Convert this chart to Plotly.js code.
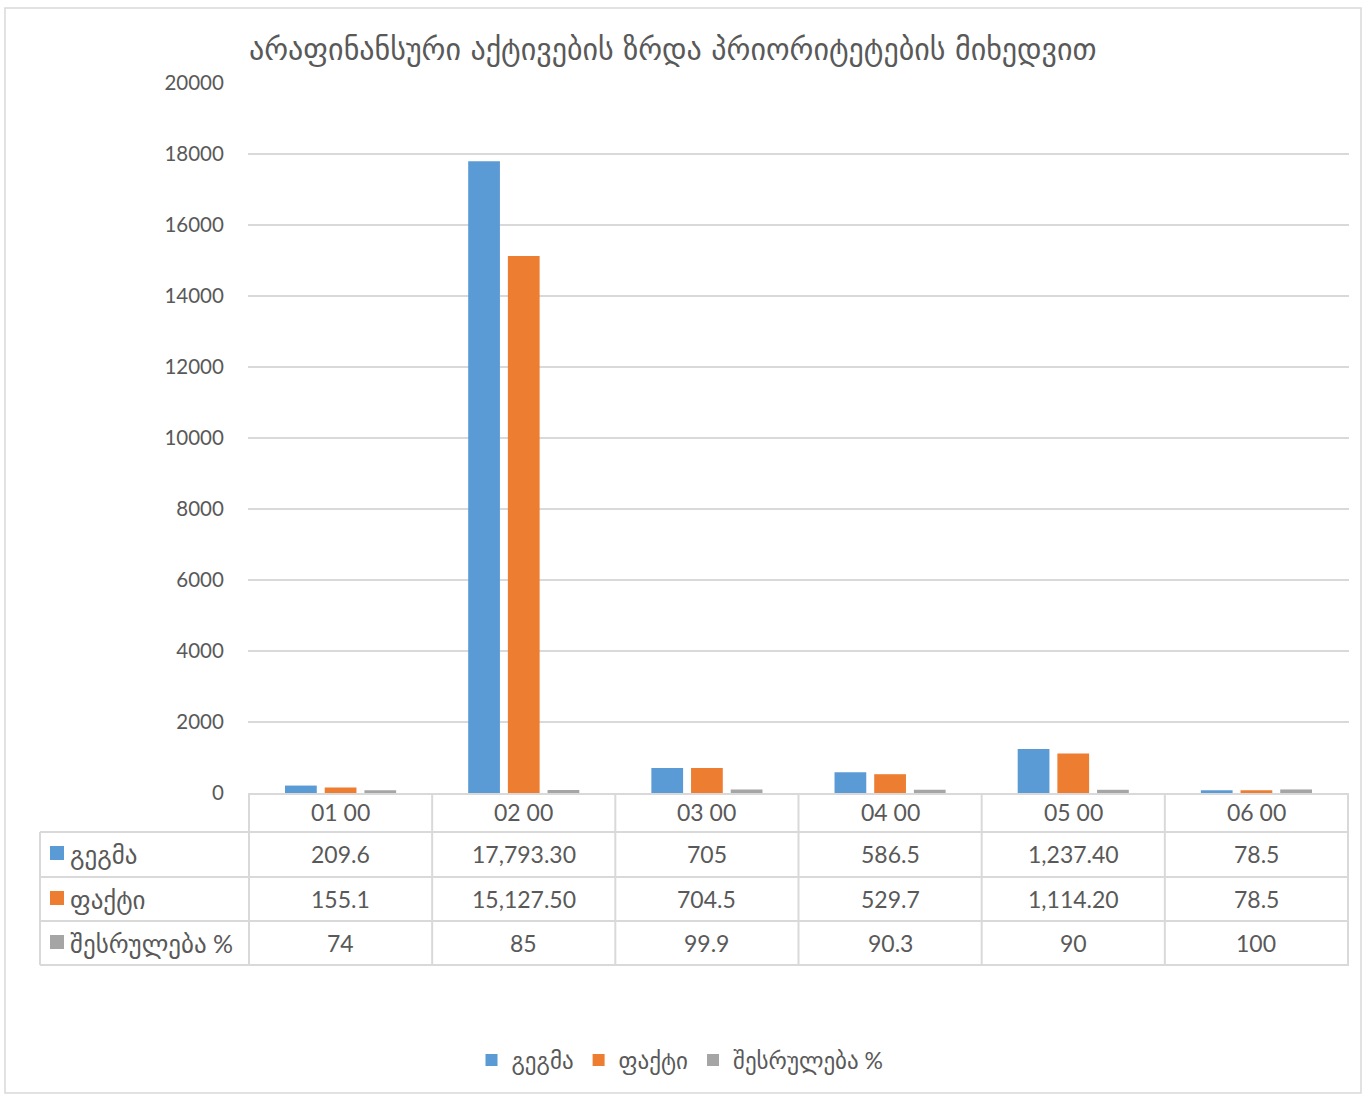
<!DOCTYPE html>
<html>
<head>
<meta charset="utf-8">
<script src="https://cdn.plot.ly/plotly-3.0.1.min.js"></script>
<style>html,body{margin:0;padding:0;background:#fff;}#chart{width:1368px;height:1095px;}</style>
</head>
<body>
<div id="chart"></div>
<script>
// ---- data ----
const categories = ["01 00", "02 00", "03 00", "04 00", "05 00", "06 00"];
const seriesNames = ["გეგმა", "ფაქტი", "შესრულება %"];
const plan = [209.6, 17793.3, 705, 586.5, 1237.4, 78.5];
const fact = [155.1, 15127.5, 704.5, 529.7, 1114.2, 78.5];
const percent = [74, 85, 99.9, 90.3, 90, 100];
const yTicks = [0, 2000, 4000, 6000, 8000, 10000, 12000, 14000, 16000, 18000, 20000];
const titleText = "არაფინანსური აქტივების ზრდა პრიორიტეტების მიხედვით";

// ---- styles ----
const colors = ["#5B9BD5", "#ED7D31", "#A5A5A5"];
const textColor = "#595959";
const lineColor = "#D9D9D9";
const FONT = "Lato, 'DejaVu Sans', sans-serif";

// pixel helpers (plot area)
const L = 248, T = 83, W = 1101, H = 710;
const px = p => (p - L) / W;
const py = p => (T + H - p) / H;

function fmt(v) {
  if (Math.abs(v) >= 1000) {
    const s = v.toFixed(2);
    const [ip, dp] = s.split(".");
    return ip.replace(/\B(?=(\d{3})+(?!\d))/g, ",") + "." + dp;
  }
  return String(v);
}

const allSeries = [plan, fact, percent];
const traces = allSeries.map((vals, i) => ({
  type: "bar",
  name: seriesNames[i],
  x: categories,
  y: vals,
  marker: { color: colors[i] },
  hoverinfo: "x+y+name"
}));

// table geometry
const rowTops = [793, 832, 877, 921, 965];
const rowCenters = [812, 854, 899, 943];
const tableLeft = 40;

const shapes = [];
// outer chart border
shapes.push({ type: "rect", xref: "paper", yref: "paper", x0: px(5), x1: px(1361), y0: py(8), y1: py(1093),
  line: { color: lineColor, width: 1.5 }, fillcolor: "rgba(0,0,0,0)", layer: "below" });
// horizontal table lines
for (let r = 1; r < rowTops.length; r++) {
  shapes.push({ type: "line", xref: "paper", yref: "paper", x0: px(tableLeft), x1: 1, y0: py(rowTops[r]), y1: py(rowTops[r]),
    line: { color: lineColor, width: 2 } });
}
// vertical table lines at category boundaries
for (let c = 0; c <= categories.length; c++) {
  shapes.push({ type: "line", xref: "x", yref: "paper", x0: c - 0.5, x1: c - 0.5, y0: py(793), y1: py(965),
    line: { color: lineColor, width: 2 } });
}
// left edge of label column
shapes.push({ type: "line", xref: "paper", yref: "paper", x0: px(tableLeft), x1: px(tableLeft), y0: py(832), y1: py(965),
  line: { color: lineColor, width: 2 } });
// legend keys inside table
for (let i = 0; i < 3; i++) {
  const cy = rowCenters[i + 1] - 1;
  shapes.push({ type: "rect", xref: "paper", yref: "paper", x0: px(50), x1: px(64), y0: py(cy + 7), y1: py(cy - 7),
    fillcolor: colors[i], line: { width: 0 } });
}

const annotations = [];
// header row
categories.forEach((c, j) => {
  annotations.push({ xref: "x", yref: "paper", x: j, y: py(rowCenters[0]), text: c, showarrow: false,
    xanchor: "center", yanchor: "middle", font: { family: FONT, size: 23, color: textColor } });
});
// value rows
allSeries.forEach((vals, i) => {
  annotations.push({ xref: "paper", yref: "paper", x: px(68), y: py(rowCenters[i + 1]), text: seriesNames[i], showarrow: false,
    xanchor: "left", yanchor: "middle", font: { family: FONT, size: 25, color: textColor } });
  vals.forEach((v, j) => {
    annotations.push({ xref: "x", yref: "paper", x: j, y: py(rowCenters[i + 1]), text: fmt(v), showarrow: false,
      xanchor: "center", yanchor: "middle", font: { family: FONT, size: 23, color: textColor } });
  });
});

const layout = {
  width: 1368, height: 1095,
  margin: { l: L, r: 1368 - L - W, t: T, b: 1095 - T - H, pad: 0 },
  paper_bgcolor: "#fff", plot_bgcolor: "#fff",
  barmode: "group", bargap: 0.35, bargroupgap: 0.2,
  title: { text: titleText, xref: "container", yref: "container", x: 249 / 1368, xanchor: "left",
    y: 1 - 49 / 1095, yanchor: "middle", font: { family: "'DejaVu Sans', sans-serif", size: 30, color: textColor } },
  xaxis: { type: "category", showticklabels: false, showgrid: false, zeroline: false,
    showline: true, linecolor: lineColor, linewidth: 2, ticks: "", fixedrange: true },
  yaxis: { range: [0, 20000], tickvals: yTicks, ticktext: yTicks.map(String), showgrid: true, gridcolor: lineColor, gridwidth: 1.5,
    zeroline: false, showline: false, ticks: "outside", ticklen: 19, tickcolor: "rgba(0,0,0,0)",
    tickfont: { family: FONT, size: 20.5, color: textColor }, fixedrange: true },
  showlegend: true,
  legend: { orientation: "h", x: px(680), xanchor: "center", y: py(1060), yanchor: "middle",
    font: { family: FONT, size: 23, color: textColor }, itemwidth: 30, traceorder: "normal" },
  shapes: shapes,
  annotations: annotations
};

Plotly.newPlot("chart", traces, layout, { displayModeBar: false, staticPlot: true });
</script>
</body>
</html>
